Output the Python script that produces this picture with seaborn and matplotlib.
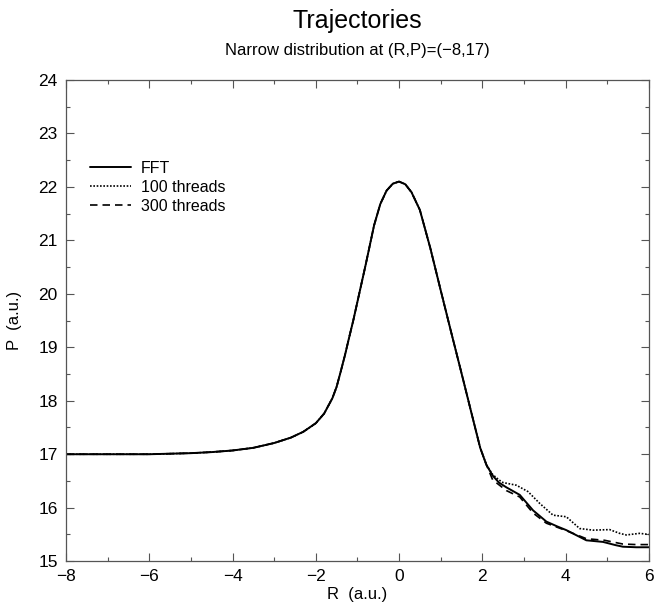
import numpy as np
import pandas as pd
import seaborn as sns
import matplotlib.pyplot as plt
from matplotlib.ticker import MultipleLocator

# shared part of all three curves (R, P in a.u.)
r_common = [-8.0, -7.0, -6.0, -5.0, -4.5, -4.0, -3.5, -3.0, -2.6, -2.3, -2.0,
            -1.8, -1.6, -1.5, -1.4, -1.3, -1.2, -1.1, -1.0, -0.8, -0.6, -0.45,
            -0.3, -0.15, 0.0, 0.15, 0.3, 0.5, 0.75, 1.0, 1.25, 1.5, 1.75, 1.95,
            2.1]
p_common = [17.00, 17.00, 17.00, 17.02, 17.04, 17.07, 17.12, 17.21, 17.31,
            17.42, 17.58, 17.76, 18.05, 18.26, 18.55, 18.85, 19.18, 19.50,
            19.85, 20.55, 21.28, 21.68, 21.93, 22.06, 22.10, 22.05, 21.90,
            21.57, 20.86, 20.07, 19.29, 18.52, 17.74, 17.12, 16.80]

# tails after the curves split
r_fft_tail = [2.25, 2.4, 2.58, 2.9, 3.22, 3.54, 3.8, 4.02, 4.5, 4.9, 5.2, 5.38, 5.7, 6.0]
p_fft_tail = [16.60, 16.47, 16.38, 16.24, 15.95, 15.74, 15.65, 15.58, 15.39,
              15.36, 15.30, 15.27, 15.26, 15.26]

r_100_tail = [2.25, 2.4, 2.5, 2.82, 3.1, 3.38, 3.7, 4.02, 4.34, 4.66, 5.06,
              5.3, 5.46, 5.78, 6.0]
p_100_tail = [16.62, 16.52, 16.47, 16.42, 16.30, 16.08, 15.86, 15.83, 15.61,
              15.58, 15.59, 15.52, 15.49, 15.52, 15.50]

r_300_tail = [2.25, 2.58, 2.9, 3.22, 3.54, 4.02, 4.5, 4.94, 5.38, 5.7, 6.0]
p_300_tail = [16.52, 16.32, 16.20, 15.90, 15.71, 15.57, 15.42, 15.39, 15.32,
              15.31, 15.31]

labels = ["FFT", "100 threads", "300 threads"]

sns.set_style("ticks")
plt.rcParams['font.family'] = ['Liberation Sans', 'DejaVu Sans']
plt.rcParams.update({"text.color": "black", "axes.labelcolor": "black",
                     "xtick.labelcolor": "black", "ytick.labelcolor": "black"})

fig = plt.figure(figsize=(6.54, 6.06), dpi=100)
ax = fig.add_axes([0.101, 0.074, 0.891, 0.794])

series = [
    (r_fft_tail, p_fft_tail, None),
    (r_100_tail, p_100_tail, (0, (1, 1))),
    (r_300_tail, p_300_tail, (0, (4.5, 3))),
]
for lab, (rt, pt, dash) in zip(labels, series):
    df = pd.DataFrame({"R": r_common + rt, "P": p_common + pt})
    sns.lineplot(data=df, x="R", y="P", ax=ax, color="black", lw=1.4,
                 label=lab, estimator=None)
    line = ax.get_lines()[-1]
    if dash is not None:
        line.set_linestyle(dash)
        line.set_linewidth(1.2)

ax.set_xlim(-8, 6)
ax.set_ylim(15, 24)
ax.xaxis.set_major_locator(MultipleLocator(2))
ax.xaxis.set_minor_locator(MultipleLocator(1))
ax.yaxis.set_major_locator(MultipleLocator(1))
ax.yaxis.set_minor_locator(MultipleLocator(0.5))
ax.tick_params(which="both", direction="in", top=True, right=True,
               labelsize=12.5, color="#555555", labelcolor="black", width=0.8)
ax.tick_params(which="major", length=6, pad=6)
ax.tick_params(which="minor", length=3)
for s in ax.spines.values():
    s.set_color("#555555")
    s.set_linewidth(0.9)

ax.set_xticklabels([f"{int(t)}".replace("-", "\u2212") for t in ax.get_xticks()])
ax.set_xlabel("R  (a.u.)", fontsize=12, labelpad=2, color="black")
ax.set_ylabel("P  (a.u.)", fontsize=12, labelpad=12, color="black")

fig.text(0.547, 0.965, "Trajectories", ha="center", va="center", fontsize=18,
         color="black")
fig.text(0.547, 0.917, "Narrow distribution at (R,P)=(\u22128,17)",
         ha="center", va="center", fontsize=12, color="black")

leg = ax.legend(loc="upper left", bbox_to_anchor=(0.03, 0.845), frameon=False,
                fontsize=11.5, handlelength=2.6, handletextpad=0.6,
                labelspacing=0.25, borderaxespad=0)
for t in leg.get_texts():
    t.set_color("black")

fig.savefig("out.png", dpi=100)
